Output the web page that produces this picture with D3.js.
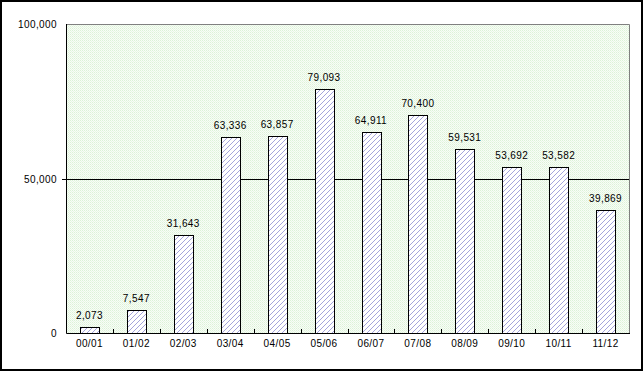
<!DOCTYPE html>
<html>
<head>
<meta charset="utf-8">
<script src="https://cdn.jsdelivr.net/npm/d3@7"></script>
<style>
  body { margin: 0; background: #fff; }
  svg text { font-family: "Liberation Sans", Arial, sans-serif; font-size: 10px; fill: #000; letter-spacing: 0.4px; }
</style>
</head>
<body>
<script>
// fiscal years and values
const years = ["00/01", "01/02", "02/03", "03/04", "04/05", "05/06", "06/07", "07/08", "08/09", "09/10", "10/11", "11/12"];
const counts = [2073, 7547, 31643, 63336, 63857, 79093, 64911, 70400, 59531, 53692, 53582, 39869];
const yTicks = [0, 50000, 100000];

const width = 644, height = 372;
const margin = ({top: 24, right: 15, bottom: 39, left: 66});

const svg = d3.select("body").append("svg")
  .attr("width", width)
  .attr("height", height);

const defs = svg.append("defs");

// dotted light green background
const bg = defs.append("pattern")
  .attr("id", "dots")
  .attr("patternUnits", "userSpaceOnUse")
  .attr("width", 2).attr("height", 2);
bg.append("rect").attr("width", 2).attr("height", 2).attr("fill", "#f8fdf6");
bg.append("rect").attr("width", 1).attr("height", 1).attr("fill", "#dcf2d8");
bg.append("rect").attr("x", 1).attr("y", 1).attr("width", 1).attr("height", 1).attr("fill", "#e8f7e5");

// diagonal hatching for bars
const hatch = defs.append("pattern")
  .attr("id", "hatch")
  .attr("patternUnits", "userSpaceOnUse")
  .attr("width", 5).attr("height", 5);
hatch.append("rect").attr("width", 5).attr("height", 5).attr("fill", "#fff");
hatch.append("path")
  .attr("d", "M-1,1 l2,-2 M0,5 l5,-5 M4,6 l2,-2")
  .attr("stroke", "#a4a4dc")
  .attr("stroke-width", 1);

// outer frame
svg.append("rect")
  .attr("x", 1).attr("y", 1)
  .attr("width", width - 3).attr("height", height - 3)
  .attr("fill", "none")
  .attr("stroke", "#000")
  .attr("stroke-width", 2);

const x = d3.scaleBand()
  .domain(years)
  .range([margin.left, width - margin.right]);

const y = d3.scaleLinear()
  .domain([0, 100000])
  .range([height - margin.bottom, margin.top]);

const x0 = margin.left, x1 = width - margin.right;
const yb = y(0), yt = y(100000);

// plot area
svg.append("rect")
  .attr("x", x0).attr("y", yt)
  .attr("width", x1 - x0).attr("height", yb - yt)
  .attr("fill", "url(#dots)");

// gray top / right border
svg.append("path")
  .attr("d", `M${x0},${yt + 0.5}H${x1 + 0.5}V${yb}`)
  .attr("fill", "none")
  .attr("stroke", "#808080");

// gridline at 50,000
svg.append("g")
  .selectAll("line")
  .data(yTicks.filter(d => d > 0 && d < 100000))
  .join("line")
  .attr("x1", x0 - 4).attr("x2", x1)
  .attr("y1", d => Math.round(y(d)) + 0.5)
  .attr("y2", d => Math.round(y(d)) + 0.5)
  .attr("stroke", "#000");

// y labels
svg.append("g")
  .selectAll("text")
  .data(yTicks)
  .join("text")
  .attr("x", x0 - 9)
  .attr("y", d => y(d) + 4)
  .attr("text-anchor", "end")
  .text(d => d3.format(",")(d));

// bars
const bw = x.bandwidth() * 0.4;
svg.append("g")
  .selectAll("rect")
  .data(counts)
  .join("rect")
  .attr("x", (d, i) => Math.round(x(years[i]) + (x.bandwidth() - bw) / 2) + 0.5)
  .attr("y", d => Math.round(y(d)) + 0.5)
  .attr("width", Math.round(bw))
  .attr("height", d => Math.round(yb) - Math.round(y(d)))
  .attr("fill", "url(#hatch)")
  .attr("stroke", "#000");

// value labels
svg.append("g")
  .selectAll("text")
  .data(counts)
  .join("text")
  .attr("x", (d, i) => x(years[i]) + x.bandwidth() / 2)
  .attr("y", d => y(d) - 8)
  .attr("text-anchor", "middle")
  .text(d => d3.format(",")(d));

// axes lines
svg.append("path")
  .attr("d", `M${x0 + 0.5},${yt}V${Math.round(yb) + 0.5}H${x1 + 1}`)
  .attr("fill", "none")
  .attr("stroke", "#000");

// inside category ticks at band boundaries
svg.append("g")
  .selectAll("line")
  .data(years.slice(1))
  .join("line")
  .attr("x1", d => Math.round(x(d)) + 0.5)
  .attr("x2", d => Math.round(x(d)) + 0.5)
  .attr("y1", Math.round(yb))
  .attr("y2", Math.round(yb) - 4)
  .attr("stroke", "#000");

// category labels
svg.append("g")
  .selectAll("text")
  .data(years)
  .join("text")
  .attr("x", d => x(d) + x.bandwidth() / 2)
  .attr("y", yb + 14)
  .attr("text-anchor", "middle")
  .text(d => d);
</script>
</body>
</html>
